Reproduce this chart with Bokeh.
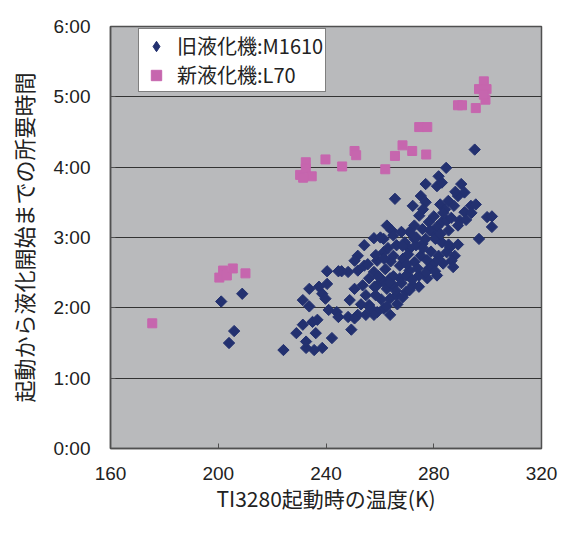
import math
from bokeh.plotting import figure
from bokeh.models import Range1d, FixedTicker, Legend, LegendItem, CDSView, IndexFilter
from bokeh.embed import file_html
from bokeh.resources import INLINE

# ---- data (temperature K, time in hours) ----
old_x = [201.1, 208.9, 205.9, 204.0, 295.2, 284.6, 281.8,
         277.0, 281.2, 283.0, 290.2, 291.4, 289.0, 275.2, 277.0, 272.2, 265.6, 282.4, 285.4, 284.2,
         293.8, 295.6, 291.4, 299.8, 301.6, 301.6, 296.8, 289.6, 289.0, 283.0, 284.8, 281.2, 274.6,
         272.8, 275.8, 278.2, 279.4, 271.0, 268.0, 262.6, 264.4, 265.0, 261.4, 257.8, 260.2, 266.2,
         269.2, 271.0, 272.8, 275.8, 277.0, 280.6, 283.0, 286.0, 287.8, 286.6, 287.2, 284.8, 281.8,
         280.6, 279.4, 281.2, 277.6, 278.2, 275.2, 272.8, 271.0, 274.6, 272.2, 269.8, 267.4, 267.4,
         265.0, 261.4, 259.0, 257.8, 254.2, 251.8, 250.6, 254.2, 251.8, 248.2, 245.8, 244.6, 240.4,
         240.4, 237.4, 233.8, 231.4, 233.8, 238.6, 239.8, 241.0, 244.0, 244.6, 248.2, 248.8, 250.6,
         253.6, 254.8, 256.0, 258.4, 259.0, 261.4, 260.2, 262.6, 263.8, 265.0, 266.2, 261.4, 259.0,
         257.8, 263.8, 254.8, 251.8, 250.6, 249.4, 242.2, 238.6, 235.6, 232.6, 232.6, 229.0, 231.4,
         235.0, 236.2, 236.8, 224.2, 263.8, 269.8, 268.6, 273.4,
         262.0, 265.0, 268.0, 270.0, 258.0, 256.0, 264.0, 270.5, 276.0, 260.5, 262.5, 266.5, 256.5,
         253.0, 268.5, 272.0, 274.0, 277.5, 279.0, 282.5, 285.5, 280.0, 283.5, 287.5, 273.5, 268.5,
         263.0, 258.5, 261.5, 255.5, 259.5, 263.5, 266.0, 271.0, 274.5, 277.0, 280.5, 283.5, 285.5,
         289.0, 278.5, 276.0, 286.5, 288.0, 292.0, 294.0]
old_y = [2.09, 2.20, 1.67, 1.50, 4.25, 3.99, 3.87,
         3.76, 3.73, 3.78, 3.76, 3.64, 3.59, 3.59, 3.50, 3.45, 3.55, 3.47, 3.52, 3.40,
         3.45, 3.47, 3.36, 3.29, 3.30, 3.15, 2.98, 3.24, 3.17, 3.22, 3.24, 3.15, 3.31,
         3.17, 3.12, 3.22, 3.08, 3.08, 3.08, 3.17, 3.10, 3.03, 2.98, 2.99, 3.00, 2.89,
         2.93, 2.84, 2.98, 2.91, 2.98, 2.98, 2.93, 2.86, 2.74, 2.67, 2.58, 2.79, 2.74,
         2.65, 2.60, 2.46, 2.42, 2.56, 2.74, 2.65, 2.53, 2.46, 2.32, 2.23, 2.42, 2.60,
         2.74, 2.79, 2.67, 2.51, 2.89, 2.74, 2.67, 2.60, 2.53, 2.51, 2.52, 2.52, 2.52,
         2.34, 2.30, 2.27, 2.11, 2.02, 2.20, 2.13, 1.97, 1.94, 1.87, 1.87, 2.11, 2.27,
         2.32, 2.18, 2.04, 2.18, 2.32, 2.37, 2.42, 2.27, 2.13, 2.32, 2.18, 1.99, 1.94,
         1.90, 1.90, 1.90, 1.90, 1.85, 1.69, 1.57, 1.43, 1.40, 1.43, 1.52, 1.64, 1.76,
         1.80, 1.64, 1.83, 1.40, 2.42, 2.46, 2.70, 2.89,
         2.55, 2.45, 2.35, 2.62, 2.30, 2.42, 2.66, 2.76, 2.85, 2.12, 2.02, 2.05, 2.00,
         2.05, 2.15, 2.40, 2.56, 2.68, 2.80, 3.05, 3.10, 3.30, 3.35, 3.45, 3.00, 2.88,
         2.85, 2.75, 2.70, 2.62, 2.45, 2.36, 2.24, 2.25, 2.30, 2.50, 2.52, 2.63, 2.90,
         2.90, 3.10, 3.40, 3.28, 3.65, 3.25, 3.35]

new_x = [175.5, 200.4, 201.8, 203.2, 205.4, 210.1,
         230.4, 232.5, 232.5, 234.7, 231.5, 239.8, 246.0, 250.6, 251.2, 262.0, 265.6, 268.4,
         272.0, 274.6, 277.6, 277.2, 289.0, 290.5, 295.6, 298.6, 296.8, 299.6, 299.2, 298.6]
new_y = [1.78, 2.43, 2.53, 2.46, 2.56, 2.49,
         3.89, 4.07, 3.98, 3.87, 3.85, 4.11, 4.01, 4.23, 4.17, 3.97, 4.16, 4.31,
         4.23, 4.57, 4.57, 4.18, 4.88, 4.88, 4.84, 5.22, 5.11, 5.11, 4.96, 5.03]

series_names = ["旧液化機:M1610", "新液化機:L70"]
x_ticks = [160, 200, 240, 280, 320]
y_ticks = [0, 1, 2, 3, 4, 5, 6]
y_tick_labels = ["0:00", "1:00", "2:00", "3:00", "4:00", "5:00", "6:00"]
x_title = "TI3280起動時の温度(K)"
y_title = "起動から液化開始までの所要時間"

CJK = "Noto Sans CJK JP"
NUM = "Liberation Sans"
BLUE = "#233170"
PINK = "#C666AE"

p = figure(width=558, height=517, output_backend="svg", toolbar_location=None,
           x_range=Range1d(160, 320), y_range=Range1d(0, 6),
           min_border_left=110, min_border_right=17, min_border_top=26, min_border_bottom=69)
p.background_fill_color = "#B9BABC"
p.border_fill_color = "white"
p.outline_line_color = "#505050"
p.outline_line_width = 1.5

p.xgrid.visible = False
p.ygrid.ticker = FixedTicker(ticks=y_ticks)
p.ygrid.grid_line_color = "#333333"
p.ygrid.grid_line_width = 1

p.xaxis.ticker = FixedTicker(ticks=x_ticks)
p.yaxis.ticker = FixedTicker(ticks=y_ticks)
p.yaxis.major_label_overrides = {t: s for t, s in zip(y_ticks, y_tick_labels)}

for ax in (p.xaxis[0], p.yaxis[0]):
    ax.axis_line_color = "#505050"
    ax.axis_line_width = 1.5
    ax.major_tick_in = 5
    ax.major_tick_out = 0
    ax.major_tick_line_color = "#505050"
    ax.minor_tick_line_color = None
    ax.major_label_text_font = NUM
    ax.major_label_text_font_size = "19px"
    ax.major_label_text_color = "#222222"
    ax.axis_label_text_font = CJK
    ax.axis_label_text_font_style = "normal"
    ax.axis_label_text_color = "#222222"

p.xaxis.major_label_standoff = 18
p.yaxis.major_label_standoff = 20
p.xaxis.axis_label = x_title
p.yaxis.axis_label = y_title
p.xaxis.axis_label_text_font_size = "21px"
p.yaxis.axis_label_text_font_size = "22px"
p.xaxis.axis_label_standoff = 0
p.yaxis.axis_label_standoff = 12

# legend-key glyph: a small diamond drawn once, hidden beneath the first data marker
r_old_key = p.scatter(old_x, old_y, marker="diamond", size=5,
                      fill_color=BLUE, line_color=BLUE,
                      view=CDSView(filter=IndexFilter(indices=[0])))
r_old = p.scatter(old_x, old_y, marker="square", size=8, angle=math.pi / 4,
                  fill_color=BLUE, line_color=BLUE)
r_new = p.scatter(new_x, new_y, marker="square", size=9,
                  fill_color=PINK, line_color=PINK)

legend = Legend(items=[LegendItem(label=series_names[0], renderers=[r_old_key]),
                       LegendItem(label=series_names[1], renderers=[r_new])],
                location=(28, 356))
legend.border_line_color = "black"
legend.border_line_width = 1
legend.background_fill_color = "white"
legend.background_fill_alpha = 1
legend.label_text_font = CJK
legend.label_text_font_size = "20px"
legend.label_text_color = "#222222"
legend.glyph_width = 30
legend.glyph_height = 26
legend.label_height = 26
legend.label_standoff = 6
legend.spacing = 0
legend.padding = 2
legend.margin = 0
p.add_layout(legend)

open("out.html", "w").write(file_html(p, INLINE))
